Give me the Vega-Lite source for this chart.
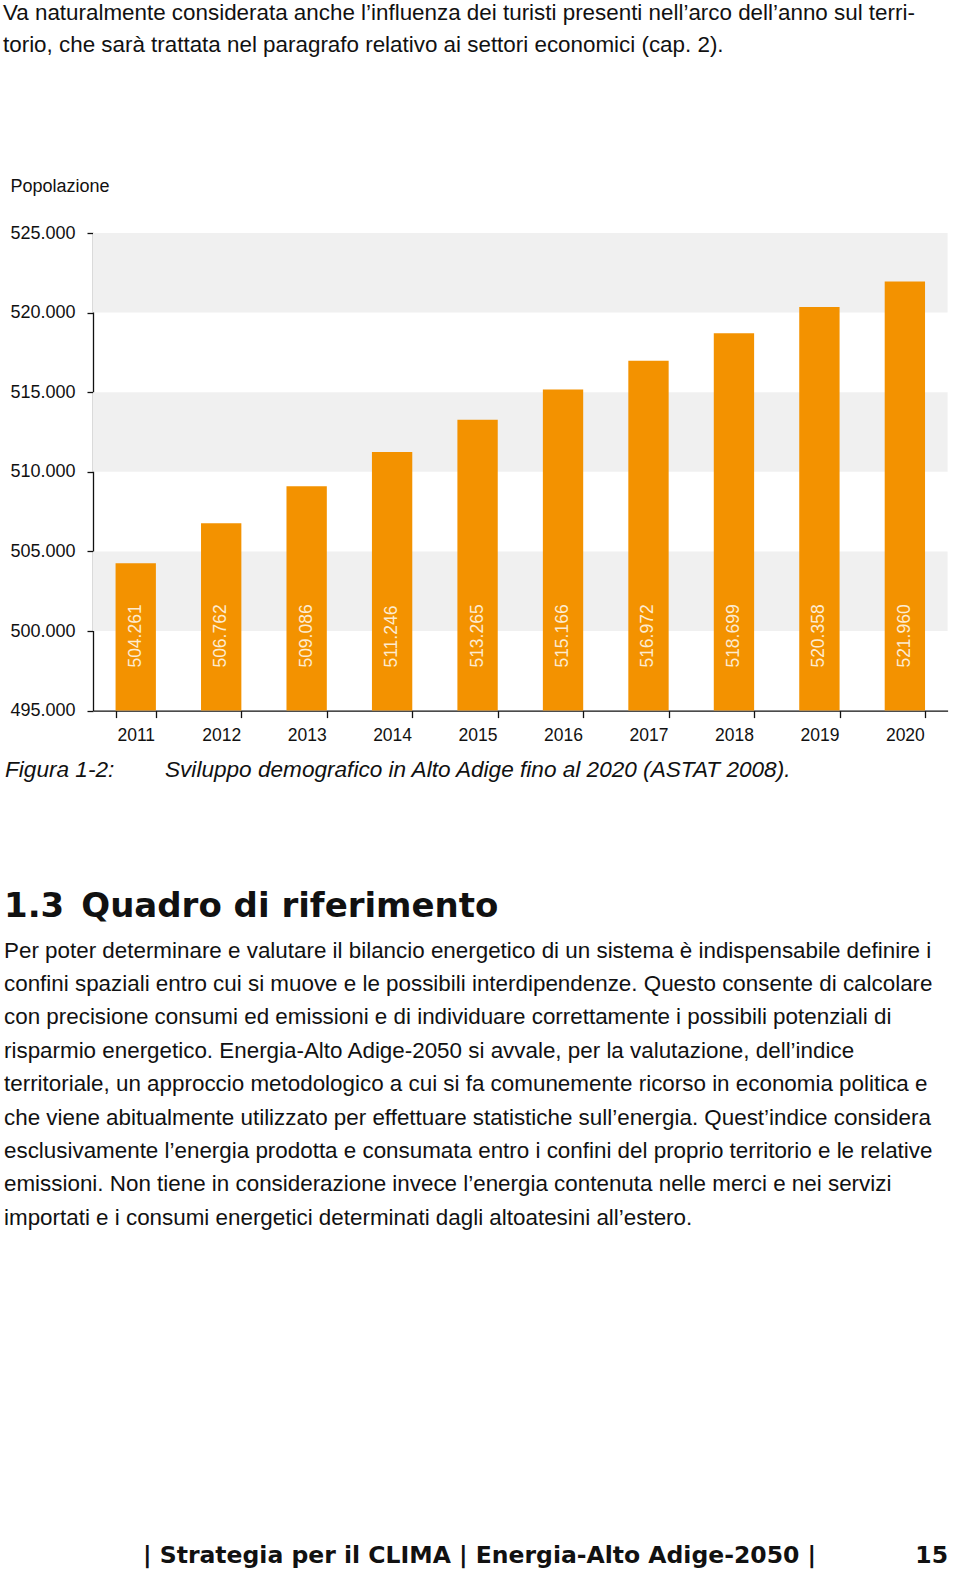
{
  "$schema": "https://vega.github.io/schema/vega-lite/v6.json",
  "background": "white",
  "padding": {"left": 3, "top": 0, "right": 0, "bottom": 0},
  "spacing": 0,
  "config": {
    "view": {"stroke": null},
    "font": "Liberation Sans",
    "text": {"font": "Liberation Sans", "color": "#111111"}
  },
  "datasets": {
    "top": [
      {"line": 1, "text": "Va naturalmente considerata anche l’influenza dei turisti presenti nell’arco dell’anno sul terri-"},
      {"line": 2, "text": "torio, che sarà trattata nel paragrafo relativo ai settori economici (cap. 2)."}
    ],
    "pop": [
      {"year": "2011", "pop": 504261, "label": "504.261"},
      {"year": "2012", "pop": 506762, "label": "506.762"},
      {"year": "2013", "pop": 509086, "label": "509.086"},
      {"year": "2014", "pop": 511246, "label": "511.246"},
      {"year": "2015", "pop": 513265, "label": "513.265"},
      {"year": "2016", "pop": 515166, "label": "515.166"},
      {"year": "2017", "pop": 516972, "label": "516.972"},
      {"year": "2018", "pop": 518699, "label": "518.699"},
      {"year": "2019", "pop": 520358, "label": "520.358"},
      {"year": "2020", "pop": 521960, "label": "521.960"}
    ],
    "stripes": [
      {"lo": 520000, "hi": 525000},
      {"lo": 510000, "hi": 515000},
      {"lo": 500000, "hi": 505000}
    ],
    "body": [
      {"line": 1, "text": "Per poter determinare e valutare il bilancio energetico di un sistema è indispensabile definire i"},
      {"line": 2, "text": "confini spaziali entro cui si muove e le possibili interdipendenze. Questo consente di calcolare"},
      {"line": 3, "text": "con precisione consumi ed emissioni e di individuare correttamente i possibili potenziali di"},
      {"line": 4, "text": "risparmio energetico. Energia-Alto Adige-2050 si avvale, per la valutazione, dell’indice"},
      {"line": 5, "text": "territoriale, un approccio metodologico a cui si fa comunemente ricorso in economia politica e"},
      {"line": 6, "text": "che viene abitualmente utilizzato per effettuare statistiche sull’energia. Quest’indice considera"},
      {"line": 7, "text": "esclusivamente l’energia prodotta e consumata entro i confini del proprio territorio e le relative"},
      {"line": 8, "text": "emissioni. Non tiene in considerazione invece l’energia contenuta nelle merci e nei servizi"},
      {"line": 9, "text": "importati e i consumi energetici determinati dagli altoatesini all’estero."}
    ]
  },
  "vconcat": [
    {
      "width": 857,
      "height": 176.8,
      "data": {"name": "top"},
      "mark": {"type": "text", "align": "left", "baseline": "alphabetic", "fontSize": 22.4, "dy": 3.25},
      "encoding": {
        "x": {"datum": 3, "type": "quantitative", "scale": {"domain": [93, 950]}, "axis": null},
        "y": {"field": "line", "type": "ordinal", "axis": null, "scale": {"range": [0, 65], "paddingInner": 0, "paddingOuter": 0}},
        "text": {"field": "text"}
      }
    },
    {
      "width": 854.6,
      "height": 477.6,
      "layer": [
        {
          "data": {"name": "stripes"},
          "mark": {"type": "rect", "color": "#f0f0f0"},
          "encoding": {
            "y": {"field": "lo", "type": "quantitative"},
            "y2": {"field": "hi"}
          }
        },
        {
          "data": {"name": "pop"},
          "mark": {"type": "bar", "color": "#F39200"},
          "encoding": {
            "x": {
              "field": "year", "type": "ordinal",
              "scale": {"paddingInner": 0.528, "paddingOuter": 0.264},
              "axis": {
                "title": null, "labelAngle": 0, "labelFontSize": 17.5, "labelColor": "#111111",
                "labelPadding": 8.5, "tickBand": "extent", "tickSize": 7, "tickColor": "#111111",
                "domainColor": "#111111", "domainWidth": 1.3, "tickWidth": 1.3, "grid": false
              }
            },
            "y": {
              "field": "pop", "type": "quantitative",
              "scale": {"domain": [495000, 525000], "zero": false, "nice": false},
              "axis": {
                "values": [495000, 500000, 505000, 510000, 515000, 520000, 525000],
                "labelExpr": "replace(format(datum.value, ','), ',', '.')",
                "labelFontSize": 18, "labelColor": "#111111", "labelPadding": 12,
                "tickSize": 6, "tickColor": "#111111", "tickWidth": 1.3,
                "domainColor": "#111111", "domainWidth": 1.3, "grid": false,
                "title": "Popolazione", "titleAngle": 0, "titleAlign": "left", "titleBaseline": "alphabetic",
                "titleX": -83, "titleY": -41.4, "titleFontSize": 18, "titleFontWeight": "normal", "titleColor": "#111111"
              }
            },
            "y2": {"datum": 495000}
          }
        },
        {
          "data": {"name": "pop"},
          "mark": {"type": "text", "angle": 270, "align": "left", "baseline": "middle", "dx": 43, "fontSize": 17.5, "color": "#fdebd0"},
          "encoding": {
            "x": {"field": "year", "type": "ordinal"},
            "y": {"datum": 495000, "type": "quantitative"},
            "text": {"field": "label"}
          }
        }
      ]
    },
    {
      "width": 857,
      "height": 46.6,
      "layer": [
        {
          "data": {"values": [{"t": "Figura 1-2:"}]},
          "mark": {"type": "text", "align": "left", "baseline": "alphabetic", "fontSize": 22.6, "fontStyle": "italic", "dy": 10},
          "encoding": {
            "x": {"datum": 5, "type": "quantitative", "scale": {"domain": [93, 950]}, "axis": null},
            "text": {"field": "t"}
          }
        },
        {
          "data": {"values": [{"t": "Sviluppo demografico in Alto Adige fino al 2020 (ASTAT 2008)."}]},
          "mark": {"type": "text", "align": "left", "baseline": "alphabetic", "fontSize": 22.6, "fontStyle": "italic", "dy": 10},
          "encoding": {
            "x": {"datum": 165, "type": "quantitative", "scale": {"domain": [93, 950]}, "axis": null},
            "text": {"field": "t"}
          }
        }
      ]
    },
    {
      "width": 857,
      "height": 141,
      "data": {"values": [{"t": "1.3\u2002Quadro di riferimento"}]},
      "mark": {"type": "text", "align": "left", "baseline": "alphabetic", "fontSize": 34, "font": "DejaVu Sans", "fontWeight": "bold", "dy": 55.5},
      "encoding": {
        "x": {"datum": 4, "type": "quantitative", "scale": {"domain": [93, 950]}, "axis": null},
        "text": {"field": "t"}
      }
    },
    {
      "width": 857,
      "height": 300.6,
      "data": {"name": "body"},
      "mark": {"type": "text", "align": "left", "baseline": "alphabetic", "fontSize": 22.4, "dy": 8.8},
      "encoding": {
        "x": {"datum": 4, "type": "quantitative", "scale": {"domain": [93, 950]}, "axis": null},
        "y": {"field": "line", "type": "ordinal", "axis": null, "scale": {"range": [0, 300.6], "paddingInner": 0, "paddingOuter": 0}},
        "text": {"field": "text"}
      }
    },
    {
      "width": 857,
      "height": 335.4,
      "layer": [
        {
          "data": {"values": [{"t": "| Strategia per il CLIMA | Energia-Alto Adige-2050 |"}]},
          "mark": {"type": "text", "align": "left", "baseline": "alphabetic", "fontSize": 23.5, "font": "DejaVu Sans", "fontWeight": "bold", "dy": 162.2},
          "encoding": {
            "x": {"datum": 143, "type": "quantitative", "scale": {"domain": [93, 950]}, "axis": null},
            "text": {"field": "t"}
          }
        },
        {
          "data": {"values": [{"t": "15"}]},
          "mark": {"type": "text", "align": "right", "baseline": "alphabetic", "fontSize": 23.5, "font": "DejaVu Sans", "fontWeight": "bold", "dy": 162.2},
          "encoding": {
            "x": {"datum": 948, "type": "quantitative", "scale": {"domain": [93, 950]}, "axis": null},
            "text": {"field": "t"}
          }
        }
      ]
    }
  ]
}
